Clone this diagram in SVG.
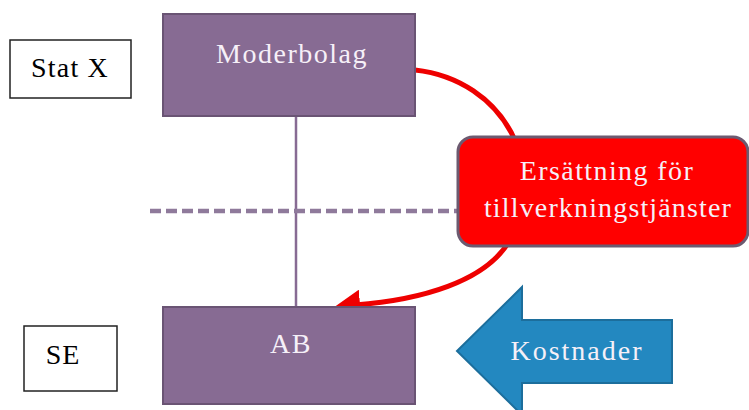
<svg xmlns="http://www.w3.org/2000/svg" width="749" height="410" viewBox="0 0 749 410">
<defs>
<style>
.lbl{fill:#fff;stroke:#222;stroke-width:1.5}
.co{fill:#876b93;stroke:#6a5474;stroke-width:2}
</style>
<marker id="ah" markerWidth="6" markerHeight="6" refX="1" refY="3" orient="auto" markerUnits="strokeWidth">
<path d="M0,0 L5,3 L0,6 Z" fill="#ee0000"/>
</marker>
</defs>
<rect width="749" height="410" fill="#fff"/>
<g id="connectors">
<line x1="296" y1="116" x2="296" y2="307" stroke="#876b93" stroke-width="2.5"/>
<line x1="150" y1="211" x2="460" y2="211" stroke="#8f7a9b" stroke-width="4.5" stroke-dasharray="11 5"/>
<path d="M415,70 C505,80 550,170 510,240 C486,282 420,300 355,305" fill="none" stroke="#ee0000" stroke-width="5" marker-end="url(#ah)"/>
</g>
<g font-family="Liberation Serif, Times New Roman, serif" font-size="28" text-anchor="middle" letter-spacing="1.5">
<g id="statx"><rect class="lbl" x="10" y="40" width="121" height="58"/><text x="70" y="77" fill="#000" letter-spacing="1.2">Stat X</text></g>
<g id="se"><rect class="lbl" x="24" y="326" width="93" height="65"/><text x="63" y="364" fill="#000" letter-spacing="1">SE</text></g>
<g id="moderbolag"><rect class="co" x="163" y="14" width="252" height="102"/><text x="292" y="63" fill="#f6f0f8">Moderbolag</text></g>
<g id="ab"><rect class="co" x="163" y="307" width="252" height="97"/><text x="291" y="353" fill="#f6f0f8">AB</text></g>
<g id="ersattning"><rect x="458" y="137" width="290" height="109" rx="15" fill="#ff0000" stroke="#6c5a70" stroke-width="3"/>
<text x="607" y="180" fill="#f6f0f8" letter-spacing="1.4">Ersättning för</text><text x="608" y="217" fill="#f6f0f8" letter-spacing="1.15">tillverkningstjänster</text></g>
<g id="kostnader"><path d="M457,351 L522,287 L522,320 L672,320 L672,383 L522,383 L522,415 Z" fill="#2388c0" stroke="#1c6e9c" stroke-width="2"/>
<text x="577" y="360" fill="#f6f0f8" letter-spacing="2">Kostnader</text></g>
</g>
</svg>
